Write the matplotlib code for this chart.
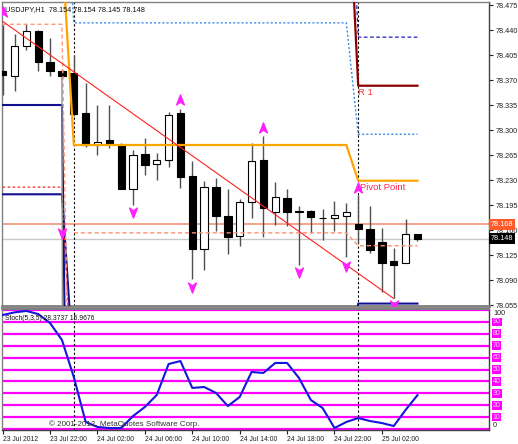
import numpy as np
import matplotlib
matplotlib.use('Agg')
import matplotlib.pyplot as plt
from matplotlib.path import Path
from matplotlib.transforms import blended_transform_factory as btf

plt.rcParams['font.family'] = ['Liberation Sans', 'DejaVu Sans']

# ---------------- data ----------------
title_text = 'USDJPY,H1  78.154 78.154 78.145 78.148'
stoch_text = 'Stoch(5,3,5) 28.3737 15.9676'
copyright_text = '\u00a9 2001-2012, MetaQuotes Software Corp.'

opens  = [78.383, 78.376, 78.418, 78.439, 78.395, 78.383, 78.380, 78.324, 78.279, 78.286,
          78.279, 78.217, 78.266, 78.252, 78.258, 78.324, 78.236, 78.133, 78.220, 78.180,
          78.152, 78.199, 78.258, 78.185, 78.205, 78.187, 78.187, 78.177, 78.177, 78.180,
          78.168, 78.161, 78.143, 78.117, 78.114, 78.154]
highs  = [78.447, 78.434, 78.448, 78.440, 78.429, 78.385, 78.405, 78.366, 78.335, 78.335,
          78.282, 78.272, 78.289, 78.268, 78.325, 78.329, 78.257, 78.229, 78.233, 78.217,
          78.203, 78.282, 78.292, 78.227, 78.217, 78.194, 78.188, 78.189, 78.201, 78.198,
          78.209, 78.194, 78.163, 78.135, 78.175, 78.154]
lows   = [78.349, 78.355, 78.412, 78.383, 78.376, 78.373, 78.320, 78.276, 78.265, 78.275,
          78.217, 78.195, 78.237, 78.230, 78.248, 78.219, 78.091, 78.104, 78.159, 78.126,
          78.138, 78.177, 78.150, 78.167, 78.166, 78.111, 78.156, 78.146, 78.159, 78.122,
          78.142, 78.128, 78.073, 78.065, 78.114, 78.145]
closes = [78.377, 78.418, 78.439, 78.395, 78.383, 78.376, 78.322, 78.279, 78.283, 78.280,
          78.217, 78.265, 78.251, 78.258, 78.321, 78.234, 78.133, 78.220, 78.180, 78.150,
          78.199, 78.257, 78.191, 78.206, 78.185, 78.185, 78.178, 78.177, 78.181, 78.185,
          78.161, 78.132, 78.114, 78.111, 78.154, 78.148]

stoch_main = [95.8, 98.0, 99.2, 96.6, 89.0, 74.8, 43.7, 5.9, 1.7, 0.8,
              0.8, 10.9, 18.5, 28.6, 54.6, 57.1, 34.5, 35.3, 30.3, 19.3,
              26.9, 47.9, 47.1, 55.5, 55.5, 42.9, 24.4, 17.6, 0.8, 5.9,
              9.2, 6.7, 5.0, 2.5, 16.0, 28.4]

time_labels = ['23 Jul 2012', '23 Jul 22:00', '24 Jul 02:00', '24 Jul 06:00', '24 Jul 10:00',
               '24 Jul 14:00', '24 Jul 18:00', '24 Jul 22:00', '25 Jul 02:00']
time_label_bars = [0, 4, 8, 12, 16, 20, 24, 28, 32]
day_start_bars = [0, 6, 30]          # 23 Jul 18:00, 24 Jul 00:00, 25 Jul 00:00
separator_bars = [6, 30]

price_ticks = [78.475, 78.440, 78.405, 78.370, 78.335, 78.300, 78.265, 78.230,
               78.195, 78.160, 78.125, 78.090, 78.055]
ask_price = 78.168
bid_price = 78.148
stoch_levels = [0, 10, 20, 30, 40, 50, 60, 70, 80, 90, 100]

# daily pivot-style levels (23 Jul part, 24 Jul, 25 Jul)
pivot_levels = [78.555, 78.279, 78.229]
r1_levels    = [np.nan, 78.700, 78.362]
r2_levels    = [np.nan, 78.800, 78.430]
lblue_levels = [78.700, 78.450, 78.294]
mid_levels   = [np.nan, 78.156, 78.138]
navy_a       = [78.335, 77.000, np.nan]
navy_b       = [78.210, 77.961, 78.057]
red_dash     = [78.220, 77.890, np.nan]
salmon_dash  = [78.448, 77.511, np.nan]
gray_drop_bars = [5, 6]
gray_drop_vals = [78.373, 70.0]

up_bars = [0, 15, 22, 30]
up_prices = [78.465, 78.342, 78.303, 78.219]
down_bars = [5, 11, 16, 25, 29, 33]
down_prices = [78.156, 78.185, 78.080, 78.101, 78.110, 78.055]

trend_bars = [0, 33]
trend_prices = [78.452, 78.064]

# ---------------- layout ----------------
W, H = 518, 444
fig = plt.figure(figsize=(W / 100, H / 100), dpi=100)
fig.patch.set_facecolor('white')

def px_axes(l, t, r, b):
    return fig.add_axes([l / W, 1 - b / H, (r - l) / W, (b - t) / H])

ax = px_axes(2, 2, 489, 306)
ax2 = px_axes(2, 309, 489, 430)

n = len(opens)
xs = np.arange(n)
x0, dx = 2.7, 11.85
xlim = ((2 - x0) / dx, (489 - x0) / dx)
ppx = 714.286
ylim_main = (78.475 - (306 - 5) / ppx, 78.475 + 3 / ppx)
for a in (ax, ax2):
    a.set_xlim(*xlim)
    a.set_facecolor('white')
ax.set_ylim(*ylim_main)
ax2.set_ylim((429 - 430) / 1.19, (429 - 309) / 1.19)

def day_series(vals):
    out = np.empty(n)
    bounds = day_start_bars + [n]
    for k in range(3):
        out[bounds[k]:bounds[k + 1]] = vals[k]
    return out

# ask / bid lines (behind candles)
ax.axhline(ask_price, color='#F4876E', lw=1.1, zorder=1)
ax.axhline(bid_price, color='#C8C8C8', lw=1.0, zorder=1)

# separators
for b in separator_bars:
    for a in (ax, ax2):
        a.axvline(b, color='black', lw=0.8, ls=(0, (2, 2)), zorder=2)

# candles
o = np.array(opens); c = np.array(closes); h = np.array(highs); l = np.array(lows)
bull = c >= o
ax.vlines(xs, l, h, color='#505050', lw=1.0, zorder=3)
bw = 0.62
ax.bar(xs[bull], (c - o)[bull], bottom=o[bull], width=bw, color='white',
       edgecolor='black', lw=0.8, zorder=4)
ax.bar(xs[~bull], (c - o)[~bull], bottom=o[~bull], width=bw, color='black',
       edgecolor='black', lw=0.8, zorder=4)

# indicator lines
ax.plot(xs, day_series(navy_a), color='#101090', lw=1.5, zorder=5)
ax.plot(xs, day_series(navy_b), color='#101090', lw=1.5, zorder=5)
ax.plot(xs, day_series(red_dash), color='#FF2020', lw=0.9, ls=(0, (2, 2)), zorder=5)
ax.plot(xs, day_series(salmon_dash), color='#FF9A80', lw=1.0, ls=(0, (3, 2)), zorder=5)
ax.plot(gray_drop_bars, gray_drop_vals, color='#909090', lw=1.0, zorder=5)
ax.plot(xs, day_series(mid_levels), color='#FF9070', lw=1.0, ls=(0, (3, 2)), zorder=5)
ax.plot(xs, day_series(lblue_levels), color='#3C8CE6', lw=1.0, ls=(0, (1.5, 1.5)), zorder=5)
ax.plot(xs, day_series(r2_levels), color='#2020C0', lw=0.9, ls=(0, (3, 2)), zorder=5)
ax.plot(xs, day_series(r1_levels), color='#8B0000', lw=1.6, zorder=5)
ax.plot(xs, day_series(pivot_levels), color='#FFA500', lw=1.6, zorder=5)
ax.plot(trend_bars, trend_prices, color='#FF2020', lw=0.8, zorder=6)

# fractal arrows
up_arrow = Path([(0, 1), (0.7, -0.8), (0, -0.3), (-0.7, -0.8), (0, 1)],
                [Path.MOVETO, Path.LINETO, Path.LINETO, Path.LINETO, Path.CLOSEPOLY])
down_arrow = Path([(0, -1), (0.7, 0.8), (0, 0.3), (-0.7, 0.8), (0, -1)],
                  [Path.MOVETO, Path.LINETO, Path.LINETO, Path.LINETO, Path.CLOSEPOLY])
ax.plot(up_bars, up_prices, ls='none', marker=up_arrow, ms=8, color='#FF22FF', zorder=7)
ax.plot(down_bars, down_prices, ls='none', marker=down_arrow, ms=8, color='#FF22FF', zorder=7)

# level labels
ax.annotate('R 1', (30, r1_levels[2]), xytext=(0, -1.5), textcoords='offset points',
            color='#FF3030', fontsize=6.8, va='top', ha='left', zorder=8)
ax.annotate('Pivot Point', (30, pivot_levels[2]), xytext=(1, -1.5), textcoords='offset points',
            color='#FF2850', fontsize=6.8, va='top', ha='left', zorder=8)

# price axis
ax.yaxis.tick_right()
ax.set_yticks(price_ticks)
ax.set_yticklabels([f'{p:.3f}' for p in price_ticks])
ax.tick_params(axis='y', direction='out', length=3, width=0.8, pad=1.5,
               labelsize=5.2, colors='#202020')
ax.set_xticks([])

tr = btf(ax.transAxes, ax.transData)
ax.text(1.004, ask_price, f'{ask_price:.3f}', transform=tr, color='white', fontsize=5.2,
        va='center', ha='left', clip_on=False, zorder=10,
        bbox=dict(boxstyle='square,pad=0.25', fc='#FF5A28', ec='none'))
ax.text(1.004, bid_price, f'{bid_price:.3f}', transform=tr, color='white', fontsize=5.2,
        va='center', ha='left', clip_on=False, zorder=10,
        bbox=dict(boxstyle='square,pad=0.25', fc='black', ec='none'))

# stochastic panel
for lv in stoch_levels:
    ax2.axhline(lv, color='#FF00FF', lw=1.6, zorder=1)
ax2.plot(xs, stoch_main, color='#1515E0', lw=1.5, zorder=4)
ax2.set_yticks([])
tr2 = btf(ax2.transAxes, ax2.transData)
for lv in stoch_levels:
    if lv == 100:
        ax2.text(1.008, lv, str(lv), transform=tr2, fontsize=5.2, va='top', ha='left',
                 clip_on=False, color='#202020')
    elif lv == 0:
        ax2.text(1.008, lv, str(lv), transform=tr2, fontsize=5.2, va='bottom', ha='left',
                 clip_on=False, color='#202020')
    else:
        ax2.text(1.008, lv, str(lv), transform=tr2, fontsize=5.0, va='center', ha='left',
                 clip_on=False, color='#FFD0FF',
                 bbox=dict(boxstyle='square,pad=0.12', fc='#FF00FF', ec='none'))

ax2.set_xticks(time_label_bars)
ax2.set_xticklabels(time_labels, ha='left')
ax2.tick_params(axis='x', direction='out', length=3, width=0.8, pad=1,
                labelsize=4.9, colors='#202020')

for a in (ax, ax2):
    for s in ('left', 'top', 'bottom'):
        a.spines[s].set_color('#808080')
        a.spines[s].set_linewidth(1.0)
    a.spines['right'].set_color('#404040')
    a.spines['right'].set_linewidth(1.0)
ax.spines['bottom'].set_linewidth(2.0)
ax2.spines['top'].set_linewidth(1.5)
ax2.spines['bottom'].set_color('#404040')

def px_text(x, y, s, **kw):
    fig.text(x / W, 1 - y / H, s, **kw)

px_text(5, 10, title_text, fontsize=5.3, va='center', ha='left', color='#101010')
px_text(5, 318, stoch_text, fontsize=4.9, va='center', ha='left', color='#101010')
px_text(49, 424, copyright_text, fontsize=5.8, va='center', ha='left', color='#303030')

fig.savefig('out.png', dpi=100, facecolor='white')
